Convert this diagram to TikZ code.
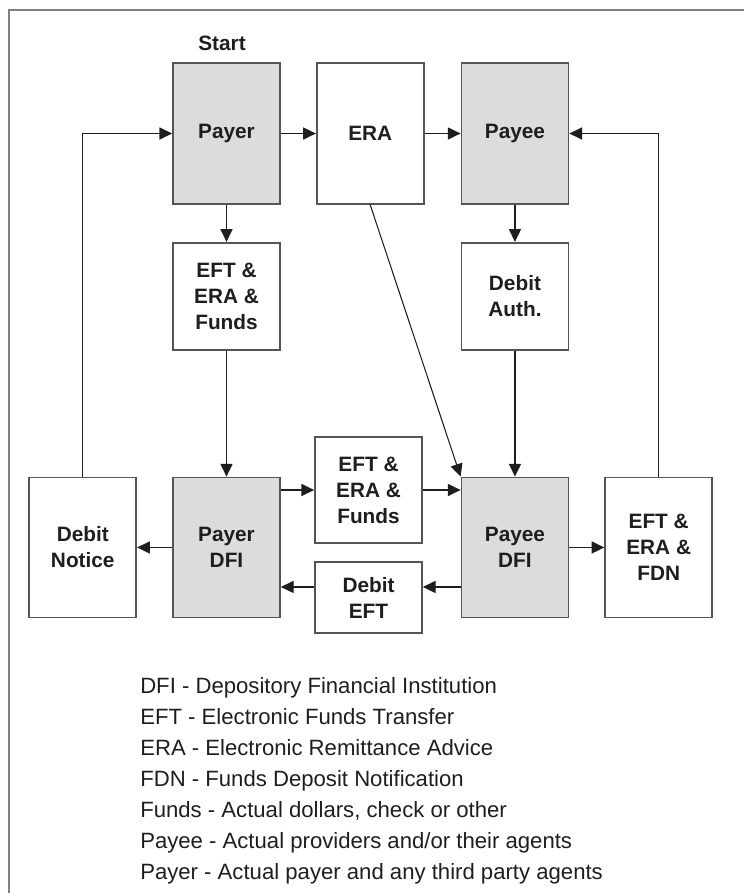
\documentclass[tikz,border=0pt]{standalone}
\usepackage{fontspec}
\setmainfont{Liberation Sans}
\usetikzlibrary{arrows.meta, positioning}
\definecolor{boxgray}{HTML}{DCDCDC}
\definecolor{edge}{HTML}{555555}
\definecolor{ink}{HTML}{1E1E1E}
\definecolor{framegray}{HTML}{808080}
\tikzset{
  box/.style={rectangle, draw=edge, line width=1.3pt, fill=white, text=ink, align=center, minimum width=80.25pt, inner sep=0pt, font=\fontsize{15.6pt}{19.5pt}\selectfont\bfseries},
  partybox/.style={box, fill=boxgray},
  arrow/.style={-{Triangle[length=9.5pt, width=9pt]}, line width=0.8pt, color=ink},
  legendtext/.style={anchor=base west, inner sep=0pt, text=ink, font=\fontsize{16.6pt}{19pt}\selectfont},
}

\begin{document}
\begin{tikzpicture}[x=0.75pt, y=-0.75pt]
  \useasboundingbox (0,0) rectangle (744,893);
  \draw[framegray, line width=1.6pt] (744,10) -- (9,10) -- (9,893);

  % top row
  \node[partybox, minimum height=105.75pt] (payer) at (226.5,133.5) {Payer};
  \node[box, minimum height=105.75pt, right=26.25pt of payer] (era) {ERA};
  \node[partybox, minimum height=105.75pt, right=27pt of era] (payee) {Payee};
  \node[text=ink, inner sep=0pt, font=\fontsize{15.6pt}{19.5pt}\selectfont\bfseries] (start) at (222,43) {Start};

  % second row
  \node[box, minimum height=80.25pt, below=27.75pt of payer] (eftera) {EFT \&\\ERA \&\\Funds};
  \node[box, minimum height=80.25pt, below=27.75pt of payee] (debitauth) {Debit\\Auth.};

  % bottom row
  \node[partybox, minimum height=105pt, below=94.5pt of eftera] (payerdfi) {Payer\\DFI};
  \node[partybox, minimum height=105pt, below=94.5pt of debitauth] (payeedfi) {Payee\\DFI};
  \node[box, minimum height=105pt, left=26.25pt of payerdfi] (debitnotice) {Debit\\Notice};
  \node[box, minimum height=105pt, right=26.25pt of payeedfi] (fdn) {EFT \&\\ERA \&\\FDN};
  \node[box, minimum height=79.5pt] (funds) at (368.5,490) {EFT \&\\ERA \&\\Funds};
  \node[box, minimum height=53.25pt] (debiteft) at (368.5,597.5) {Debit\\EFT};

  % flows
  \draw[arrow] (payer) -- (era);
  \draw[arrow] (era) -- (payee);
  \draw[arrow] (payer) -- (eftera);
  \draw[arrow] (eftera) -- (payerdfi);
  \draw[arrow] (payee) -- (debitauth);
  \draw[arrow] (debitauth) -- (payeedfi);
  \draw[arrow] (era.south) -- (payeedfi.north west);
  \draw[arrow] (payerdfi.east |- funds) -- (funds);
  \draw[arrow] (funds) -- (funds -| payeedfi.west);
  \draw[arrow] ([yshift=7.9pt]debiteft.east -| payeedfi.west) -- ([yshift=7.9pt]debiteft.east);
  \draw[arrow] ([yshift=7.9pt]debiteft.west) -- ([yshift=7.9pt]debiteft.west -| payerdfi.east);
  \draw[arrow] (payerdfi) -- (debitnotice);
  \draw[arrow] (payeedfi) -- (fdn);
  \draw[arrow] (debitnotice.north) |- (payer.west);
  \draw[arrow] (fdn.north) |- (payee.east);

  % legend
  \foreach \txt [count=\i from 0] in {{DFI - Depository Financial Institution},
      {EFT - Electronic Funds Transfer},
      {ERA - Electronic Remittance Advice},
      {FDN - Funds Deposit Notification},
      {Funds - Actual dollars, check or other},
      {Payee - Actual providers and/or their agents},
      {Payer - Actual payer and any third party agents}}
    \node[legendtext] (legend\i) at (140,693+31*\i) {\txt};
\end{tikzpicture}
\end{document}
